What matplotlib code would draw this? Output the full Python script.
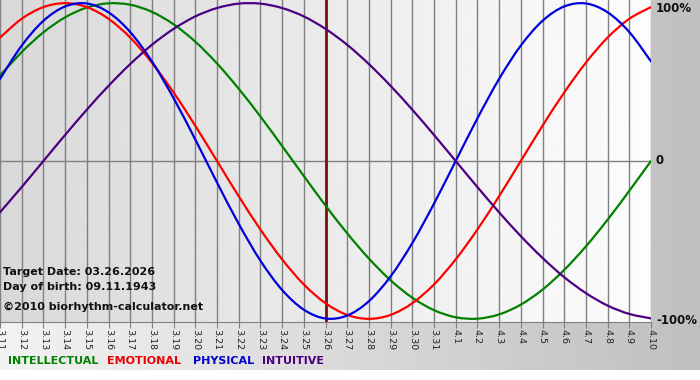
import numpy as np
import matplotlib.pyplot as plt
from matplotlib.path import Path
from matplotlib.patches import PathPatch

# day labels 3.11 .. 4.10
days = ['3.11', '3.12', '3.13', '3.14', '3.15', '3.16', '3.17', '3.18', '3.19', '3.20',
        '3.21', '3.22', '3.23', '3.24', '3.25', '3.26', '3.27', '3.28', '3.29', '3.30',
        '3.31', '4.1', '4.2', '4.3', '4.4', '4.5', '4.6', '4.7', '4.8', '4.9', '4.10']
target_idx = 15

intellectual = [0.541, 0.690, 0.815, 0.910, 0.972, 0.999, 0.990, 0.945, 0.866, 0.756,
                0.618, 0.458, 0.282, 0.095, -0.095, -0.282, -0.458, -0.618, -0.756, -0.866,
                -0.945, -0.990, -0.999, -0.972, -0.910, -0.815, -0.690, -0.541, -0.372,
                -0.189, 0.000]
emotional = [0.782, 0.901, 0.975, 1.000, 0.975, 0.901, 0.782, 0.623, 0.434, 0.223,
             0.000, -0.223, -0.434, -0.623, -0.782, -0.901, -0.975, -1.000, -0.975, -0.901,
             -0.782, -0.623, -0.434, -0.223, 0.000, 0.223, 0.434, 0.623, 0.782, 0.901, 0.975]
physical = [0.520, 0.731, 0.888, 0.979, 0.998, 0.942, 0.817, 0.631, 0.398, 0.136,
            -0.136, -0.398, -0.631, -0.817, -0.942, -0.998, -0.979, -0.888, -0.731, -0.520,
            -0.270, 0.000, 0.270, 0.520, 0.731, 0.888, 0.979, 0.998, 0.942, 0.817, 0.631]
intuitive = [-0.325, -0.165, 0.000, 0.165, 0.325, 0.476, 0.614, 0.736, 0.837, 0.916,
             0.969, 0.997, 0.997, 0.969, 0.916, 0.837, 0.736, 0.614, 0.476, 0.325,
             0.165, 0.000, -0.165, -0.325, -0.476, -0.614, -0.736, -0.837, -0.916, -0.969,
             -0.997]


def smooth_curve(ax, xs, ys, color):
    # bezier path through the read points (catmull-rom style handles)
    xs = np.asarray(xs, float)
    ys = np.asarray(ys, float)
    verts = [(xs[0], ys[0])]
    codes = [Path.MOVETO]
    n = len(xs)
    for i in range(n - 1):
        x0, y0 = xs[max(i - 1, 0)], ys[max(i - 1, 0)]
        x1, y1 = xs[i], ys[i]
        x2, y2 = xs[i + 1], ys[i + 1]
        x3, y3 = xs[min(i + 2, n - 1)], ys[min(i + 2, n - 1)]
        verts += [(x1 + (x2 - x0) / 6, y1 + (y2 - y0) / 6),
                  (x2 - (x3 - x1) / 6, y2 - (y3 - y1) / 6),
                  (x2, y2)]
        codes += [Path.CURVE4] * 3
    ax.add_patch(PathPatch(Path(verts, codes), fill=False, edgecolor=color,
                           lw=1.6, zorder=3, capstyle='round'))


fig = plt.figure(figsize=(7, 3.8), dpi=100)
fig.patch.set_facecolor('white')

# background gradient behind everything (light left -> gray right)
bg = fig.add_axes([0, 10/380, 1, 370/380])
bg.imshow(np.linspace(0.95, 0.75, 256).reshape(1, -1), cmap='gray', vmin=0, vmax=1,
          aspect='auto', extent=[0, 1, 0, 1])
bg.axis('off')

ax = fig.add_axes([0, 1 - 322/380, 651/700, 322/380])
x = np.arange(len(days))
ax.imshow(np.linspace(0.85, 0.99, 256).reshape(1, -1), cmap='gray', vmin=0, vmax=1,
          aspect='auto', extent=[0, len(days) - 1, -1.02, 1.02], zorder=0)

for i in x:
    ax.axvline(i, color='#808080', lw=1, zorder=1)
ax.axhline(0, color='#808080', lw=1, zorder=1)
ax.axvline(target_idx, color='#7a1010', lw=2, zorder=2)

smooth_curve(ax, x, intellectual, '#008000')
smooth_curve(ax, x, emotional, '#ff0000')
smooth_curve(ax, x, physical, '#0000dd')
smooth_curve(ax, x, intuitive, '#4b0082')

ax.set_xlim(0, len(days) - 1)
ax.set_ylim(-1.02, 1.02)
ax.set_xticks(x)
ax.set_xticklabels(days, rotation=270, fontsize=6.8, color='#222222')
ax.tick_params(axis='x', length=4, color='#808080', pad=1)
ax.set_yticks([])
for s in ax.spines.values():
    s.set_visible(False)
ax.spines['bottom'].set_visible(True)
ax.spines['bottom'].set_color('#808080')

# right-side scale labels
for py, t in [(8, '100%'), (161, '0'), (320, '-100%')]:
    fig.text(656/700, 1 - py/380, t, fontsize=8.5, fontweight='bold',
             color='#111111', va='center', ha='left')

fig.text(3/700, 1 - 272/380, 'Target Date: 03.26.2026', fontsize=8,
         fontweight='bold', color='#111111', va='center')
fig.text(3/700, 1 - 287/380, 'Day of birth: 09.11.1943', fontsize=8,
         fontweight='bold', color='#111111', va='center')
fig.text(3/700, 1 - 307/380, '\u00a92010 biorhythm-calculator.net',
         fontsize=8, fontweight='bold', color='#111111', va='center')

legend = [('INTELLECTUAL', '#008000', 8), ('EMOTIONAL', '#ee0000', 107),
          ('PHYSICAL', '#0000cc', 193), ('INTUITIVE', '#4b0082', 262)]
for name, col, px in legend:
    fig.text(px / 700, 1 - 361/380, name, color=col, fontsize=8, fontweight='bold',
             va='center', ha='left')

plt.savefig('out.png', dpi=100)
